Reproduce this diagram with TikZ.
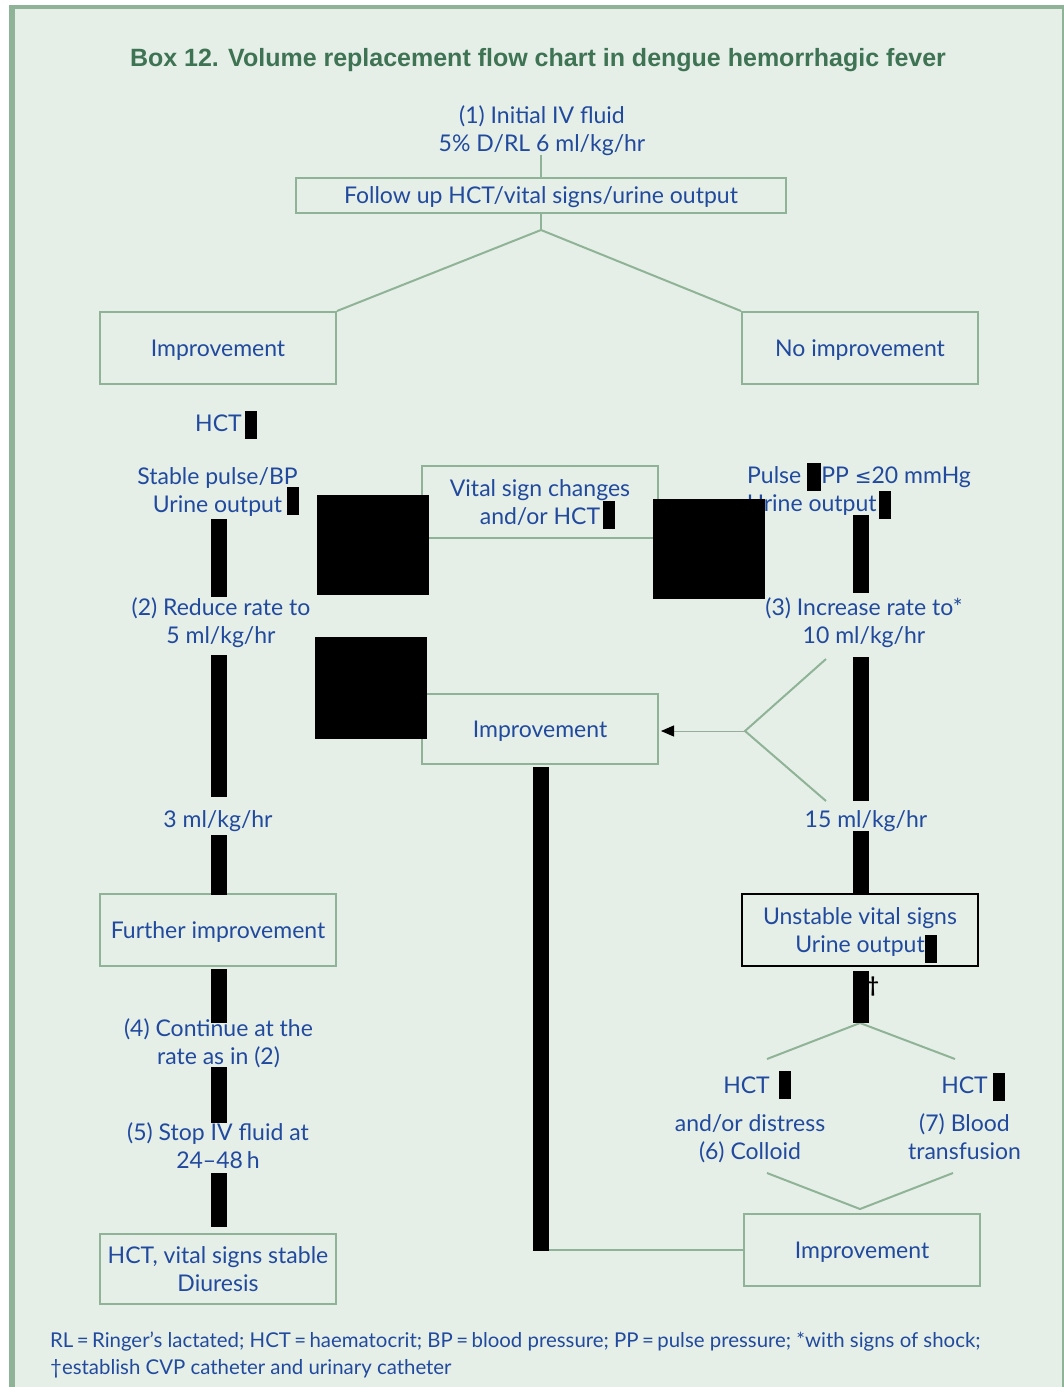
\documentclass[tikz,border=0pt]{standalone}
\usepackage{fontspec}
\setmainfont{Lato}
\newfontfamily\dejavu{DejaVu Sans}
\newfontfamily\titlefont{Liberation Sans}
\usetikzlibrary{arrows.meta}
\definecolor{bg}{RGB}{229,239,231}
\definecolor{frame}{RGB}{143,179,151}
\definecolor{txt}{RGB}{33,74,158}
\definecolor{ttl}{RGB}{62,115,84}
\definecolor{thinline}{RGB}{150,172,156}
\tikzset{
  bodyfont/.style={font=\fontsize{23}{28}\selectfont},
  capc/.style={text height=20pt, text depth=3.4pt},
  capcc/.style={text height=48pt, text depth=3.4pt},
  box/.style={draw=frame, line width=2pt, text=txt, bodyfont, align=center,
    inner sep=0pt, minimum width=236pt, minimum height=72pt, capc},
  box2/.style={box, capcc},
  lbl/.style={text=txt, bodyfont, align=center, inner sep=0pt, capc},
  lbl2/.style={lbl, capcc},
  conn/.style={draw=frame, line width=2pt},
  redact/.style={fill=black},
}
\begin{document}
\begin{tikzpicture}[x=1pt,y=-1pt]
\useasboundingbox (0,0) rectangle (1064,1387);
\fill[white] (0,0) rectangle (1064,1387);
\fill[bg] (9,5) rectangle (1064,1387);
\fill[frame] (9,5) rectangle (15,1387);
\fill[frame] (9,5) rectangle (1064,9);
\fill[frame] (1062,5) rectangle (1064,1387);

% title
\node[text=ttl, font=\titlefont\fontsize{25}{28}\bfseries\selectfont, inner sep=0pt, text height=18pt, text depth=0pt] (title) at (538,57)
  {Box 12. Volume replacement flow chart in dengue hemorrhagic fever};

% boxes
\node[box, minimum width=490pt, minimum height=35pt] (follow) at (541,195.5) {Follow up HCT/vital signs/urine output};
\node[box] (imp1) at (218,348) {Improvement};
\node[box] (noimp) at (860,348) {No improvement};
\node[box2] (vital) at (540,502) {Vital sign changes\\and/or HCT};
\node[box, minimum height=70pt] (impm) at (540,729) {Improvement};
\node[box] (further) at (218,930) {Further improvement};
\node[box2, draw=black] (unstable) at (860,930) {Unstable vital signs\\Urine output};
\node[box2, minimum height=70pt] (stableend) at (218,1269) {HCT, vital signs stable\\Diuresis};
\node[box] (impb) at (862,1250) {Improvement};

% labels
\node[lbl2] (init) at (542,129) {(1) Initial IV fluid\\5\% D/RL 6 ml/kg/hr};
\node[lbl] (hct1) at (218.5,423) {HCT};
\node[lbl2] (stable) at (217.5,490.5) {Stable pulse/BP\\Urine output};
\node[lbl2] (reduce) at (221,621) {(2) Reduce rate to\\5 ml/kg/hr};
\node[lbl] (three) at (218,819) {3 ml/kg/hr};
\node[lbl2] (cont) at (218.5,1042.5) {(4) Continue at the\\rate as in (2)};
\node[lbl2] (stop) at (218,1146) {(5) Stop IV fluid at\\24--48\,h};
\node[lbl2, align=left, anchor=west] (pulse) at (747,489) {Pulse\hspace{20pt}PP {\dejavu\fontsize{20}{28}\selectfont ≤}20 mmHg\\Urine output};
\node[lbl2] (incr) at (864,621) {(3) Increase rate to*\\10 ml/kg/hr};
\node[lbl] (fifteen) at (866,819) {15 ml/kg/hr};
\node[text=black, font=\fontsize{21}{24}\bfseries\selectfont, inner sep=0pt] (dag) at (873,986) {†};
\node[lbl] (hctL) at (746.5,1085) {HCT};
\node[lbl] (hctR) at (964.5,1085) {HCT};
\node[lbl2] (distress) at (750,1137) {and/or distress\\(6) Colloid};
\node[lbl2] (blood) at (964.5,1137) {(7) Blood\\transfusion};
\node[text=txt, font=\fontsize{20.4}{27}\selectfont, align=left, anchor=west, inner sep=0pt] (foot) at (50,1355.5)
  {RL\,=\,Ringer’s lactated; HCT\,=\,haematocrit; BP\,=\,blood pressure; PP\,=\,pulse pressure; *with signs of shock;\\†establish CVP catheter and urinary catheter};

% connectors
\coordinate (ap1) at (541,230);
\draw[conn] (init.south -| follow.north) -- (follow.north);
\draw[conn] (follow.south) -- (ap1);
\draw[conn] (ap1) -- (imp1.north east);
\draw[conn] (ap1) -- (noimp.north west);

\coordinate (v1) at (745,731);
\coordinate (v1a) at (826,659);
\coordinate (v1b) at (826,801);
\draw[conn] (v1a) -- (v1) -- (v1b);
\draw[draw=thinline, line width=1pt, -{Triangle[length=13pt,width=11pt,color=black]}] (v1) -- ([xshift=2pt,yshift=-2pt]impm.east);

\coordinate (bm) at (541,1250);
\draw[conn] (bm) -- (impb.west);

\coordinate (ap2) at (860,1023);
\coordinate (ap2l) at (767,1059);
\coordinate (ap2r) at (955,1059);
\draw[conn] (ap2l) -- (ap2) -- (ap2r);
\coordinate (ap3) at (860,1209);
\coordinate (ap3l) at (767,1173);
\coordinate (ap3r) at (953,1173);
\draw[conn] (ap3l) -- (ap3) -- (ap3r);

% redacted marks (as shown)
\fill[redact] (211,519) rectangle (227,597);
\fill[redact] (211,655) rectangle (227,797);
\fill[redact] (211,835) rectangle (227,895);
\fill[redact] (211,969) rectangle (227,1023);
\fill[redact] (211,1067) rectangle (227,1123);
\fill[redact] (211,1173) rectangle (227,1227);
\fill[redact] (853,515) rectangle (869,593);
\fill[redact] (853,657) rectangle (869,801);
\fill[redact] (853,831) rectangle (869,893);
\fill[redact] (853,971) rectangle (869,1023);
\fill[redact] (533,767) rectangle (549,1251);
\fill[redact] (317,495) rectangle (429,595);
\fill[redact] (653,499) rectangle (765,599);
\fill[redact] (315,637) rectangle (427,739);
\fill[redact] (245,411) rectangle (257,439);
\fill[redact] (287,487) rectangle (299,515);
\fill[redact] (603,501) rectangle (615,529);
\fill[redact] (807,463) rectangle (821,491);
\fill[redact] (879,491) rectangle (891,519);
\fill[redact] (925,935) rectangle (937,963);
\fill[redact] (779,1071) rectangle (791,1099);
\fill[redact] (993,1073) rectangle (1005,1101);
\end{tikzpicture}
\end{document}
